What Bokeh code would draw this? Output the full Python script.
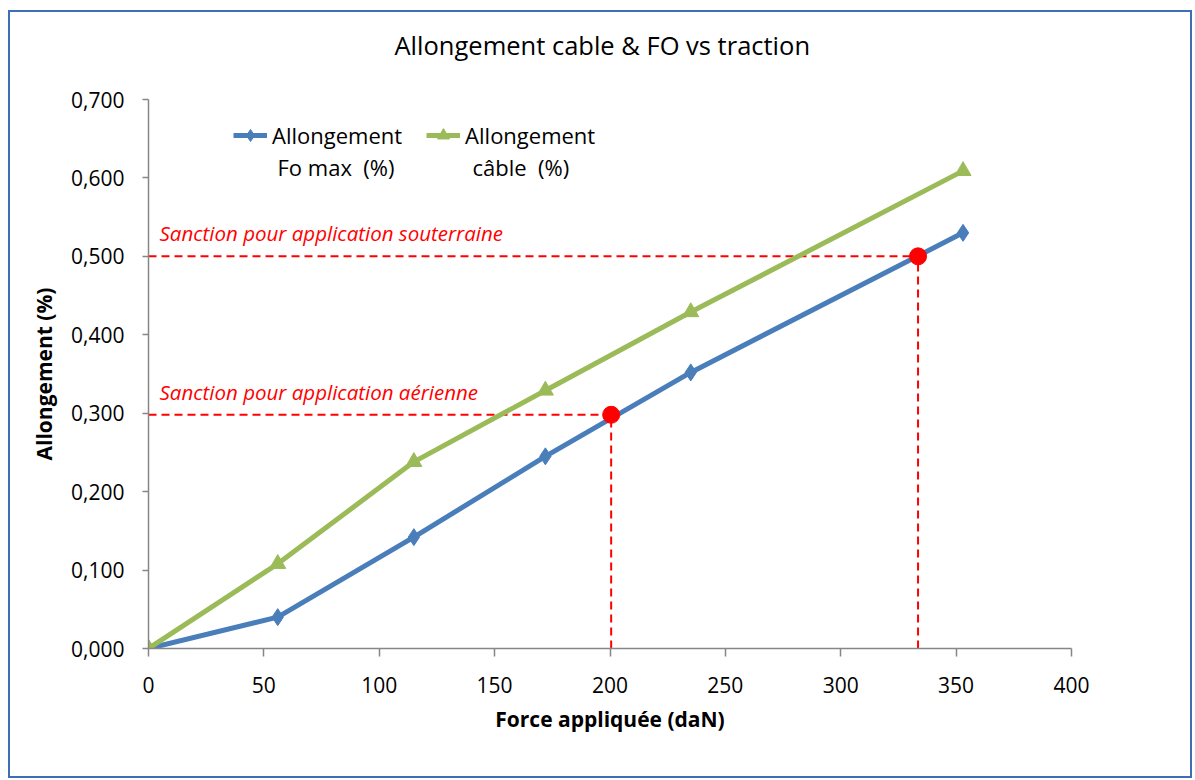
from bokeh.plotting import figure
from bokeh.models import (Range1d, FixedTicker, CustomJSTickFormatter, Legend, LegendItem,
                          Label, ColumnDataSource, Title)
from bokeh.embed import file_html
from bokeh.resources import INLINE

# ---- data ----
force_dan = [0, 56, 115, 172, 235, 353]
allong_fo = [0.000, 0.040, 0.142, 0.245, 0.352, 0.530]
allong_cable = [0.000, 0.108, 0.238, 0.329, 0.429, 0.609]
sanction_x = [200.5, 333.5]
sanction_y = [0.298, 0.500]
sanction_labels = ["Sanction pour application aérienne", "Sanction pour application souterraine"]
legend_line1 = ["Allongement", "Allongement"]
legend_line2 = ["Fo max \u00a0(%)", "câble \u00a0(%)"]
title_text = "Allongement cable & FO vs traction"
x_ticks = [0, 50, 100, 150, 200, 250, 300, 350, 400]
y_ticks = [0.0, 0.1, 0.2, 0.3, 0.4, 0.5, 0.6, 0.7]

FONT = "Open Sans"
BLUE = "#4A7EBB"
GREEN = "#9BBB59"
RED = "#FF0000"
AXIS_GRAY = "#868686"

x_min, x_max = 0, 400
y_min, y_max = 0, 0.7

p = figure(width=1184, height=768, output_backend="svg", toolbar_location=None,
           x_range=Range1d(x_min, x_max), y_range=Range1d(y_min, y_max),
           min_border_left=138, min_border_right=123, min_border_top=87, min_border_bottom=132)
p.title = None
p.margin = (10, 0, 0, 8)
p.styles = {"border": "2px solid #3F6FB3"}
p.background_fill_color = "white"
p.border_fill_color = "white"
p.outline_line_color = None
p.grid.visible = False

# spacer (inner) then the real title (outer)
p.add_layout(Title(text=" ", text_font_size="1px", standoff=30), "above")
p.add_layout(Title(text=title_text, align="left", offset=246, standoff=10,
                   text_font=FONT, text_font_size="25.5px", text_font_style="normal",
                   text_color="#000000"), "above")

fmt = CustomJSTickFormatter(code="return tick.toFixed(3).replace('.', ',');")

for ax in (p.xaxis[0], p.yaxis[0]):
    ax.axis_line_color = AXIS_GRAY
    ax.axis_line_width = 1.5
    ax.major_tick_line_color = AXIS_GRAY
    ax.major_tick_line_width = 1.5
    ax.minor_tick_line_color = None
    ax.major_tick_in = 0
    ax.major_label_text_font = FONT
    ax.major_label_text_font_size = "21px"
    ax.major_label_text_color = "#000000"
    ax.axis_label_text_font = FONT
    ax.axis_label_text_font_size = "21px"
    ax.axis_label_text_font_style = "bold"
    ax.axis_label_text_color = "#000000"

p.xaxis.ticker = FixedTicker(ticks=x_ticks)
p.yaxis.ticker = FixedTicker(ticks=y_ticks)
p.yaxis.formatter = fmt
p.xaxis.major_tick_out = 8
p.yaxis.major_tick_out = 6
p.xaxis.major_label_standoff = 20
p.yaxis.major_label_standoff = 18
p.xaxis.axis_label = "Force appliquée (daN)"
p.yaxis.axis_label = "Allongement (%)"
p.xaxis.axis_label_standoff = 9
p.yaxis.axis_label_standoff = 10

# dashed reference lines
zeros = [0 for _ in sanction_x]
p.segment(x0=zeros, y0=sanction_y, x1=sanction_x, y1=sanction_y,
          line_color=RED, line_width=2, line_dash="8 5")
p.segment(x0=sanction_x, y0=zeros, x1=sanction_x, y1=sanction_y,
          line_color=RED, line_width=2, line_dash="8 5")

# series
src = ColumnDataSource(dict(x=force_dan, fo=allong_fo, cable=allong_cable))
l1 = p.line("x", "fo", source=src, line_color=BLUE, line_width=5)
m1 = p.scatter("x", "fo", source=src, marker="diamond", size=17, fill_color=BLUE, line_color=BLUE)
l2 = p.line("x", "cable", source=src, line_color=GREEN, line_width=5)
m2 = p.scatter("x", "cable", source=src, marker="triangle", size=16, fill_color=GREEN, line_color=GREEN)

# red points
p.scatter(sanction_x, sanction_y, marker="circle", size=17, fill_color=RED, line_color=RED)

# annotation labels
for sy, txt in zip(sanction_y, sanction_labels):
    p.add_layout(Label(x=0, y=sy, text=txt, x_offset=11, y_offset=9,
                       text_font=FONT, text_font_size="20.5px", text_font_style="italic",
                       text_color=RED, text_baseline="bottom"))

legend = Legend(items=[
    LegendItem(label=legend_line1[0], renderers=[l1, m1]),
    LegendItem(label=legend_line1[1], renderers=[l2, m2]),
], orientation="horizontal")
legend.label_text_font = FONT
legend.label_text_font_size = "22px"
legend.label_text_color = "#000000"
legend.border_line_color = None
legend.background_fill_alpha = 0
legend.glyph_width = 34
legend.glyph_height = 30
legend.label_height = 30
legend.label_standoff = 5
legend.spacing = 24
legend.margin = 0
legend.padding = 0
legend.location = (85, 498)
p.add_layout(legend)

# second line of legend entries (anchored to frame top-left corner)
for xo, txt in zip([129, 324], legend_line2):
    p.add_layout(Label(x=0, y=y_max, text=txt, x_offset=xo, y_offset=-67,
                       text_font=FONT, text_font_size="22px", text_color="#000000",
                       text_baseline="alphabetic"))

open("out.html", "w").write(file_html(p, INLINE))
